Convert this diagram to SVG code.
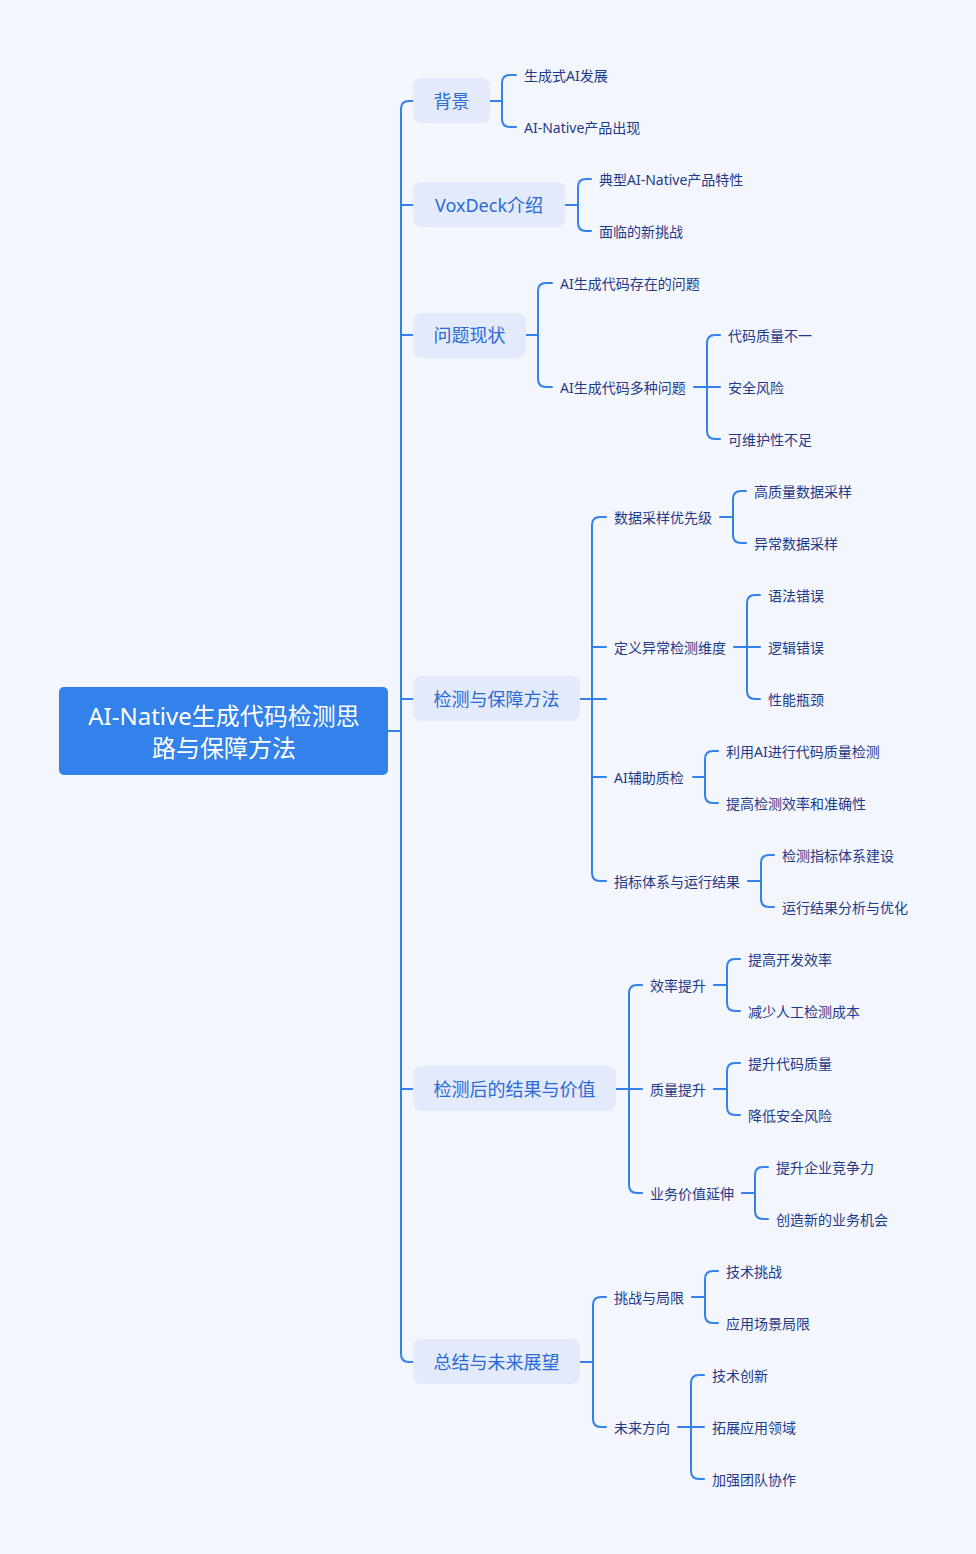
<svg xmlns="http://www.w3.org/2000/svg" width="976" height="1554" viewBox="0 0 976 1554">
<style>
.bg{fill:#f4f6fd}
.root{fill:#3381ea}
.rt{fill:#ffffff;font-family:"Noto Sans","Noto Sans CJK SC",sans-serif;font-size:24px;text-anchor:middle;dominant-baseline:central}
.box{fill:#e2eafc}
.bt{fill:#2a6bd6;font-family:"Noto Sans","Noto Sans CJK SC",sans-serif;font-size:18px;text-anchor:middle;dominant-baseline:central}
.lt{fill:#1e3a8a;font-family:"Noto Sans","Noto Sans CJK SC",sans-serif;font-size:14px;dominant-baseline:central}
.ln{fill:none;stroke:#3381ea;stroke-width:2;stroke-linecap:round;stroke-linejoin:round}
</style>
<rect class="bg" x="0" y="0" width="976" height="1554"/>
<g id="connectors" class="ln">
<path d="M388 731 H401"/>
<path d="M413 101 H409 Q401 101 401 109 V1354 Q401 1362 409 1362 H413"/>
<path d="M401 205 H413 M401 335 H413 M401 699 H413 M401 1089 H413"/>
<path d="M490 101 H502"/>
<path d="M516 75 H510 Q502 75 502 83 V119 Q502 127 510 127 H516"/>
<path d="M565 205 H578"/>
<path d="M591 179 H586 Q578 179 578 187 V223 Q578 231 586 231 H591"/>
<path d="M526 335 H538"/>
<path d="M552 283 H546 Q538 283 538 291 V379 Q538 387 546 387 H552"/>
<path d="M694 387 H720"/>
<path d="M720 335 H715 Q707 335 707 343 V431 Q707 439 715 439 H720"/>
<path d="M580 699 H606"/>
<path d="M606 517 H600 Q592 517 592 525 V873 Q592 881 600 881 H606"/>
<path d="M592 647 H606 M592 777 H606"/>
<path d="M720 517 H733"/>
<path d="M746 491 H741 Q733 491 733 499 V535 Q733 543 741 543 H746"/>
<path d="M734 647 H760"/>
<path d="M760 595 H755 Q747 595 747 603 V691 Q747 699 755 699 H760"/>
<path d="M693 777 H705"/>
<path d="M718 751 H713 Q705 751 705 759 V795 Q705 803 713 803 H718"/>
<path d="M748 881 H761"/>
<path d="M774 855 H769 Q761 855 761 863 V899 Q761 907 769 907 H774"/>
<path d="M616 1089 H642"/>
<path d="M642 985 H637 Q629 985 629 993 V1185 Q629 1193 637 1193 H642"/>
<path d="M714 985 H727"/>
<path d="M740 959 H735 Q727 959 727 967 V1003 Q727 1011 735 1011 H740"/>
<path d="M714 1089 H727"/>
<path d="M740 1063 H735 Q727 1063 727 1071 V1107 Q727 1115 735 1115 H740"/>
<path d="M742 1193 H755"/>
<path d="M768 1167 H763 Q755 1167 755 1175 V1211 Q755 1219 763 1219 H768"/>
<path d="M580 1362 H593"/>
<path d="M606 1297 H601 Q593 1297 593 1305 V1419 Q593 1427 601 1427 H606"/>
<path d="M692 1297 H705"/>
<path d="M718 1271 H713 Q705 1271 705 1279 V1315 Q705 1323 713 1323 H718"/>
<path d="M678 1427 H704"/>
<path d="M704 1375 H699 Q691 1375 691 1383 V1471 Q691 1479 699 1479 H704"/>
</g>
<g id="root">
<rect class="root" x="59" y="687" width="329" height="88" rx="5"/>
<text class="rt" x="224" y="715">AI-Native生成代码检测思</text>
<text class="rt" x="224" y="747">路与保障方法</text>
</g>
<g id="n1"><rect class="box" x="413" y="78" width="77" height="45" rx="8"/><text class="bt" x="451.5" y="101">背景</text></g>
<g id="n2"><rect class="box" x="413" y="182" width="152" height="45" rx="8"/><text class="bt" x="489" y="205">VoxDeck介绍</text></g>
<g id="n3"><rect class="box" x="413" y="313" width="113" height="45" rx="8"/><text class="bt" x="469.5" y="335">问题现状</text></g>
<g id="n4"><rect class="box" x="413" y="676" width="167" height="45" rx="8"/><text class="bt" x="496.5" y="699">检测与保障方法</text></g>
<g id="n5"><rect class="box" x="413" y="1066" width="203" height="45" rx="8"/><text class="bt" x="514.5" y="1089">检测后的结果与价值</text></g>
<g id="n6"><rect class="box" x="413" y="1339" width="167" height="45" rx="8"/><text class="bt" x="496.5" y="1362">总结与未来展望</text></g>
<g id="n1a"><text class="lt" x="524" y="75">生成式AI发展</text></g>
<g id="n1b"><text class="lt" x="524" y="127">AI-Native产品出现</text></g>
<g id="n2a"><text class="lt" x="599" y="179">典型AI-Native产品特性</text></g>
<g id="n2b"><text class="lt" x="599" y="231">面临的新挑战</text></g>
<g id="n3a"><text class="lt" x="560" y="283">AI生成代码存在的问题</text></g>
<g id="n3b"><text class="lt" x="560" y="387">AI生成代码多种问题</text></g>
<g id="n3b1"><text class="lt" x="728" y="335">代码质量不一</text></g>
<g id="n3b2"><text class="lt" x="728" y="387">安全风险</text></g>
<g id="n3b3"><text class="lt" x="728" y="439">可维护性不足</text></g>
<g id="n4a"><text class="lt" x="614" y="517">数据采样优先级</text></g>
<g id="n4a1"><text class="lt" x="754" y="491">高质量数据采样</text></g>
<g id="n4a2"><text class="lt" x="754" y="543">异常数据采样</text></g>
<g id="n4b"><text class="lt" x="614" y="647">定义异常检测维度</text></g>
<g id="n4b1"><text class="lt" x="768" y="595">语法错误</text></g>
<g id="n4b2"><text class="lt" x="768" y="647">逻辑错误</text></g>
<g id="n4b3"><text class="lt" x="768" y="699">性能瓶颈</text></g>
<g id="n4c"><text class="lt" x="614" y="777">AI辅助质检</text></g>
<g id="n4c1"><text class="lt" x="726" y="751">利用AI进行代码质量检测</text></g>
<g id="n4c2"><text class="lt" x="726" y="803">提高检测效率和准确性</text></g>
<g id="n4d"><text class="lt" x="614" y="881">指标体系与运行结果</text></g>
<g id="n4d1"><text class="lt" x="782" y="855">检测指标体系建设</text></g>
<g id="n4d2"><text class="lt" x="782" y="907">运行结果分析与优化</text></g>
<g id="n5a"><text class="lt" x="650" y="985">效率提升</text></g>
<g id="n5a1"><text class="lt" x="748" y="959">提高开发效率</text></g>
<g id="n5a2"><text class="lt" x="748" y="1011">减少人工检测成本</text></g>
<g id="n5b"><text class="lt" x="650" y="1089">质量提升</text></g>
<g id="n5b1"><text class="lt" x="748" y="1063">提升代码质量</text></g>
<g id="n5b2"><text class="lt" x="748" y="1115">降低安全风险</text></g>
<g id="n5c"><text class="lt" x="650" y="1193">业务价值延伸</text></g>
<g id="n5c1"><text class="lt" x="776" y="1167">提升企业竞争力</text></g>
<g id="n5c2"><text class="lt" x="776" y="1219">创造新的业务机会</text></g>
<g id="n6a"><text class="lt" x="614" y="1297">挑战与局限</text></g>
<g id="n6a1"><text class="lt" x="726" y="1271">技术挑战</text></g>
<g id="n6a2"><text class="lt" x="726" y="1323">应用场景局限</text></g>
<g id="n6b"><text class="lt" x="614" y="1427">未来方向</text></g>
<g id="n6b1"><text class="lt" x="712" y="1375">技术创新</text></g>
<g id="n6b2"><text class="lt" x="712" y="1427">拓展应用领域</text></g>
<g id="n6b3"><text class="lt" x="712" y="1479">加强团队协作</text></g>
</svg>
